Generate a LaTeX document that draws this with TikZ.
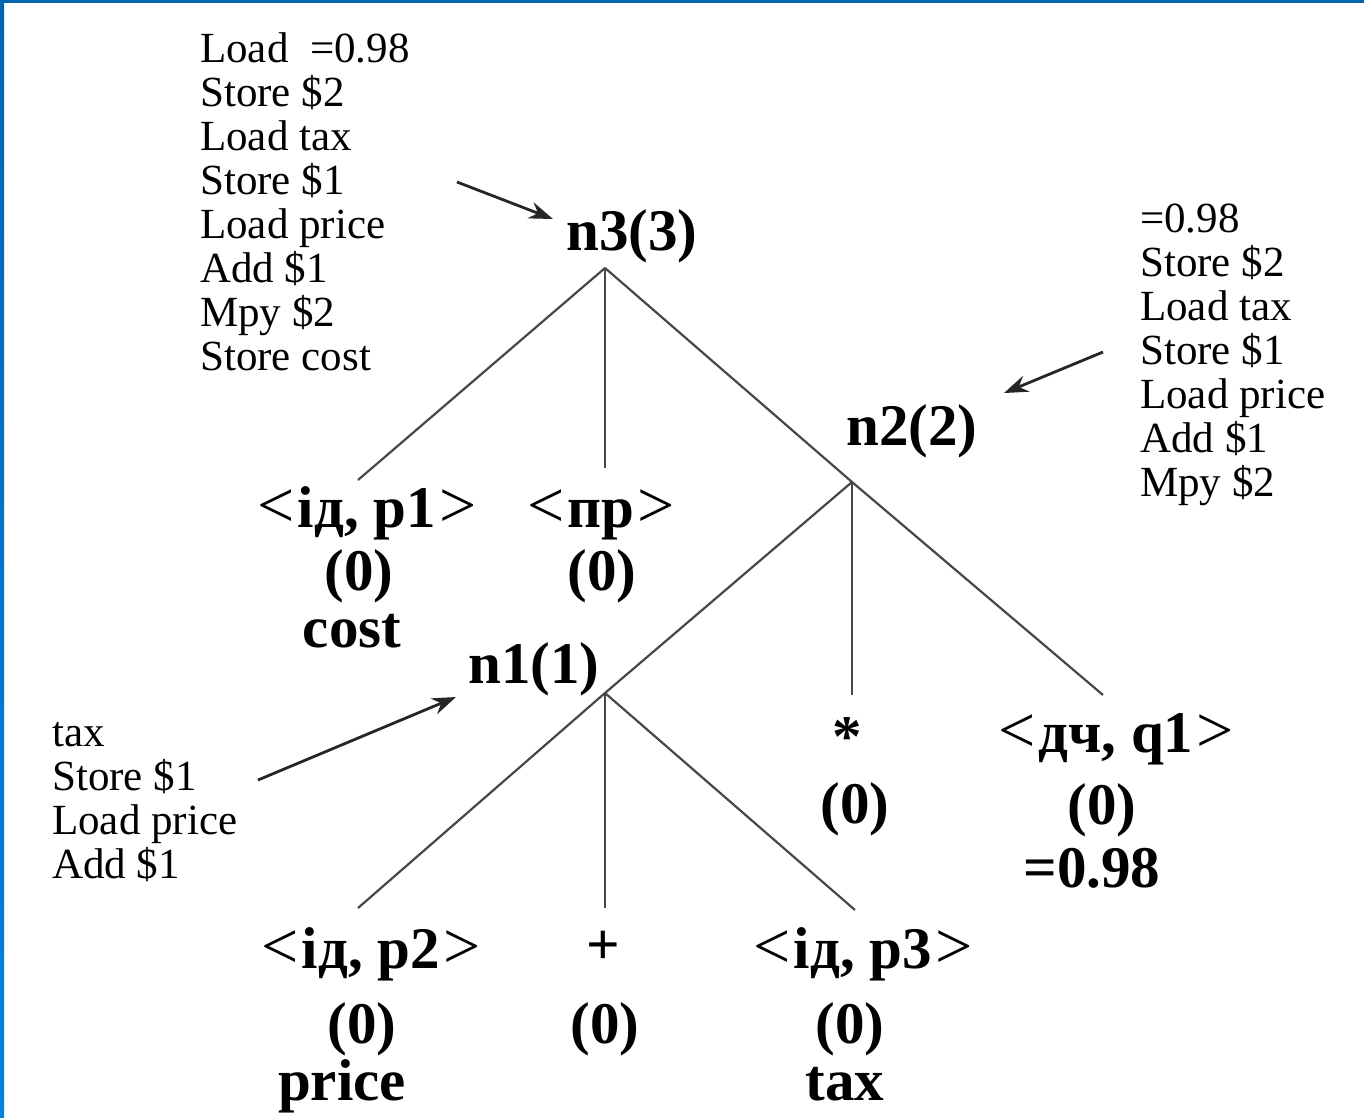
\documentclass[tikz,border=0pt]{standalone}
\usepackage{fontspec}
\setmainfont{Liberation Serif}
\usetikzlibrary{arrows.meta}
\definecolor{bordertop}{RGB}{0,100,176}
\definecolor{borderbot}{RGB}{0,130,226}
\newcommand\angL{{\mdseries\fontsize{66}{60}\selectfont<}\kern3pt}
\newcommand\angR{\kern3pt{\mdseries\fontsize{66}{60}\selectfont>}}
\begin{document}
\begin{tikzpicture}[x=1pt,y=-1pt,
  code/.style={font=\fontsize{43}{44}\selectfont, align=left, anchor=north west, inner sep=0pt},
  lbl/.style={font=\fontsize{59}{60}\selectfont\bfseries, inner sep=0pt, anchor=base},
  edge/.style={draw=black!72, line width=2.2pt},
  ptr/.style={draw=black!85, line width=2.8pt, -{Stealth[length=24pt,width=17pt,inset=8pt]}},
]
\useasboundingbox (0,0) rectangle (1364,1117);
\fill[white] (0,0) rectangle (1364,1117);
\shade[top color=bordertop, bottom color=borderbot] (0,0) rectangle (4,1117);
\fill[bordertop] (0,0) rectangle (1364,3);

% code listings
\node[code] (c3) at (200,32) {Load\ \ =0.98\\Store \$2\\Load tax\\Store \$1\\Load price\\Add \$1\\Mpy \$2\\Store cost};
\node[code] (c2) at (1140,204) {=0.98\\Store \$2\\Load tax\\Store \$1\\Load price\\Add \$1\\Mpy \$2};
\node[code] (c1) at (52,722) {tax\\Store \$1\\Load price\\Add \$1};

% inner nodes
\node[lbl] (n3) at (632,250) {n3(3)};
\node[lbl] (n2) at (912,445) {n2(2)};
\node[lbl] (n1) at (534,683) {n1(1)};

% leaves
\node[lbl] (p1) at (367,527) {\angL ід, p1\angR};
\node[lbl] (p1z) at (359,590) {(0)};
\node[lbl] (p1v) at (352,647) {cost};
\node[lbl] (pr) at (601,527) {\angL пр\angR};
\node[lbl] (prz) at (602,590) {(0)};
\node[lbl] (mul) at (847,756) {*};
\node[lbl] (mulz) at (855,823) {(0)};
\node[lbl] (q1) at (1116,752) {\angL дч, q1\angR};
\node[lbl] (q1z) at (1102,824) {(0)};
\node[lbl] (q1v) at (1092,887) {=0.98};
\node[lbl] (p2) at (371,968) {\angL ід, p2\angR};
\node[lbl] (p2z) at (362,1043) {(0)};
\node[lbl] (p2v) at (342,1100) {price};
\node[lbl] (plus) at (603,964) {+};
\node[lbl] (plusz) at (605,1043) {(0)};
\node[lbl] (p3) at (863,968) {\angL ід, p3\angR};
\node[lbl] (p3z) at (850,1043) {(0)};
\node[lbl] (p3v) at (845,1100) {tax};

% junctions and edge ends
\coordinate (j3) at (605,268);
\coordinate (j2) at (852,482);
\coordinate (j1) at (605,693);
\coordinate (e-p1) at (358,480);
\coordinate (e-pr) at (605,468);
\coordinate (e-q1) at (1103,695);
\coordinate (e-mul) at (852,695);
\coordinate (e-p2) at (358,908);
\coordinate (e-plus) at (605,908);
\coordinate (e-p3) at (855,910);

\draw[edge] (j3) -- (e-p1);
\draw[edge] (j3) -- (e-pr);
\draw[edge] (j3) -- (j2) -- (e-q1);
\draw[edge] (j2) -- (j1) -- (e-p2);
\draw[edge] (j2) -- (e-mul);
\draw[edge] (j1) -- (e-plus);
\draw[edge] (j1) -- (e-p3);

% pointers
\coordinate (s3) at (457,182);
\coordinate (t3) at (553,219);
\coordinate (s2) at (1103,352);
\coordinate (t2) at (1004,393);
\coordinate (s1) at (258,780);
\coordinate (t1) at (456,697);
\draw[ptr] (s3) -- (t3);
\draw[ptr] (s2) -- (t2);
\draw[ptr] (s1) -- (t1);
\end{tikzpicture}
\end{document}
